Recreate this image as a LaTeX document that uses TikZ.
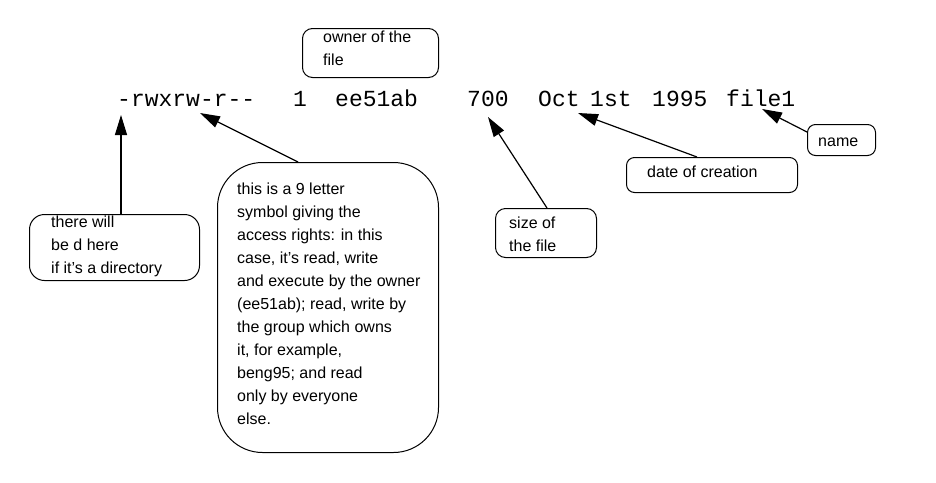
\documentclass[tikz,border=0pt]{standalone}
\usepackage{fontspec}
\setmainfont{Liberation Sans}
\newfontfamily\monofont{Liberation Mono}
\usetikzlibrary{arrows.meta,calc}
\begin{document}
\begin{tikzpicture}[x=1pt,y=-1pt,
  box/.style={draw, line width=1pt, inner sep=0pt, anchor=north west},
  lbl/.style={font=\fontsize{16}{23}\selectfont, align=left, anchor=north west, inner sep=0pt},
  lbl1/.style={font=\fontsize{16}{23}\selectfont, anchor=base west, inner sep=0pt},
  tok/.style={font=\monofont\fontsize{23}{23}\selectfont, anchor=base west, inner sep=0pt},
  arr/.style={-{Triangle[length=20pt,width=12pt]}, line width=1.2pt}]
\useasboundingbox (0,0) rectangle (936,482);
\fill[white] (0,0) rectangle (936,482);

% listing line
\node[tok] (perm) at (117,106) {-rwxrw-r--};
\node[tok] (links) at (293,106) {1};
\node[tok] (owner) at (335,106) {ee51ab};
\node[tok] (size) at (467,106) {700};
\node[tok] (mon) at (538,106) {Oct};
\node[tok] (day) at (590,106) {1st};
\node[tok] (year) at (652,106) {1995};
\node[tok] (fname) at (726,106) {file1};

% boxes
\node[box, rounded corners=10pt, minimum width=136pt, minimum height=49pt] (bOwner) at (302,28) {};
\node[lbl] (tOwner) at (323,26.6) {\strut owner of the\\file};

\node[box, rounded corners=45pt, minimum width=221pt, minimum height=290pt] (bBig) at (217,162) {};
\node[lbl] (tBig) at (237,178) {\strut this is a 9 letter\\symbol giving the\\access rights: in this\\case, it's read, write\\and execute by the owner\\(ee51ab); read, write by\\the group which owns\\it, for example,\\beng95; and read\\only by everyone\\else.};

\node[box, rounded corners=15pt, minimum width=170pt, minimum height=66pt] (bDir) at (29,214) {};
\node[lbl] (tDir) at (51,211) {\strut there will\\be d here\\if it's a directory};

\node[box, rounded corners=10pt, minimum width=101pt, minimum height=49pt] (bSize) at (495,208) {};
\node[lbl] (tSize) at (509,212) {\strut size of\\the file};

\node[box, rounded corners=8pt, minimum width=171pt, minimum height=35pt] (bDate) at (626,157) {};
\node[lbl1] (tDate) at (647,177) {date of creation};

\node[box, rounded corners=8pt, minimum width=68pt, minimum height=31pt] (bName) at (807,124) {};
\node[lbl1] (tName) at (818,146) {name};

% arrow tips
\coordinate (tipDir) at (121,115);
\coordinate (tipPerm) at (200,113);
\coordinate (tipSize) at (488,117);
\coordinate (tipDate) at (578,113);
\coordinate (tipName) at (762,109);

\draw[arr] (bDir.north west -| tipDir) -- (tipDir);
\draw[arr] ($(bBig.north west)+(81,0)$) -- (tipPerm);
\draw[arr] ($(bSize.north west)+(52,0)$) -- (tipSize);
\draw[arr] ($(bDate.north west)+(71,0)$) -- (tipDate);
\draw[arr] ($(bName.north west)+(0,8)$) -- (tipName);
\end{tikzpicture}
\end{document}
